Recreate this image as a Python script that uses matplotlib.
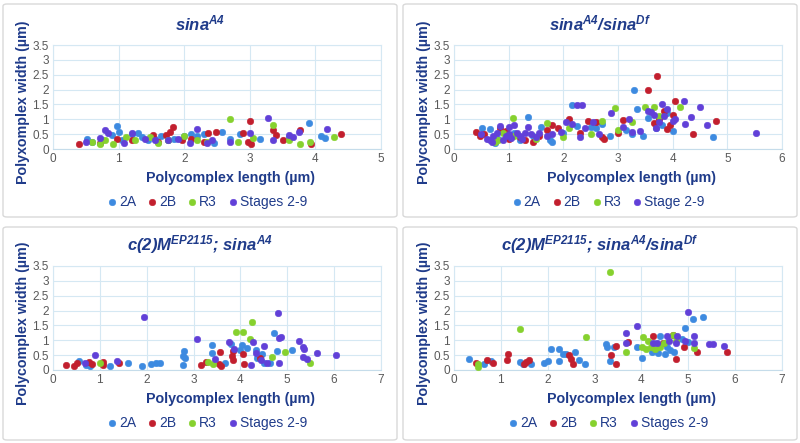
import matplotlib.pyplot as plt
from matplotlib.patches import FancyBboxPatch

plt.rcParams['font.family'] = ['Liberation Sans', 'DejaVu Sans']
plt.rcParams['mathtext.fontset'] = 'custom'
plt.rcParams['mathtext.rm'] = 'Liberation Sans:italic:bold'
plt.rcParams['mathtext.it'] = 'Liberation Sans:italic:bold'
plt.rcParams['mathtext.bf'] = 'Liberation Sans:italic:bold'

# ---- panel 1: sina A4
p1_2a_x = [0.52, 0.6, 0.75, 0.9, 0.98, 1.0, 1.05, 1.2, 1.3, 1.35, 1.45, 1.55, 1.65, 1.75,
           1.85, 2.0, 2.1, 2.2, 2.3, 2.45, 2.58, 2.7, 2.85, 3.15, 3.6, 3.9, 4.08, 4.15]
p1_2a_y = [0.35, 0.25, 0.3, 0.47, 0.77, 0.58, 0.3, 0.5, 0.55, 0.4, 0.3, 0.35, 0.45, 0.3,
           0.35, 0.45, 0.5, 0.45, 0.5, 0.2, 0.58, 0.32, 0.5, 0.33, 0.4, 0.89, 0.44, 0.38]
p1_2b_x = [0.4, 0.71, 0.97, 1.2, 1.53, 1.6, 1.73, 1.79, 1.83, 1.96, 2.1, 2.3, 2.36, 2.49,
           2.9, 2.97, 3.0, 3.02, 3.36, 3.4, 3.5, 3.76, 3.94, 4.39]
p1_2b_y = [0.17, 0.19, 0.33, 0.3, 0.47, 0.25, 0.47, 0.58, 0.73, 0.3, 0.35, 0.22, 0.53, 0.58,
           0.53, 0.25, 0.95, 0.17, 0.64, 0.47, 0.3, 0.64, 0.17, 0.5]
p1_r3_x = [0.6, 0.72, 0.8, 0.92, 1.12, 1.25, 1.48, 1.6, 1.75, 2.0, 2.2, 2.35, 2.7, 2.82,
           3.05, 3.35, 3.6, 3.76, 3.92, 4.29]
p1_r3_y = [0.25, 0.17, 0.3, 0.17, 0.42, 0.3, 0.41, 0.2, 0.3, 0.44, 0.3, 0.22, 1.02, 0.25,
           0.36, 0.81, 0.3, 0.17, 0.25, 0.39]
p1_st_x = [0.5, 0.71, 0.79, 0.84, 1.08, 1.21, 1.4, 1.55, 1.75, 1.9, 2.09, 2.19, 2.34, 2.42,
           2.7, 3.0, 3.28, 3.35, 3.6, 3.66, 3.75, 4.18]
p1_st_y = [0.25, 0.36, 0.64, 0.53, 0.2, 0.53, 0.35, 0.3, 0.3, 0.35, 0.19, 0.66, 0.19, 0.3,
           0.25, 0.53, 1.06, 0.3, 0.47, 0.42, 0.58, 0.66]

# ---- panel 2: sina A4 / sina Df
p2_2a_x = [0.52, 0.65, 0.75, 0.8, 0.95, 1.1, 1.2, 1.35, 1.45, 1.6, 1.75, 1.8, 2.0, 2.15,
           2.25, 2.5, 2.6, 2.7, 2.85, 3.15, 3.25, 3.3, 3.35, 3.45, 3.55, 3.7, 3.8, 3.9, 4.0, 4.73]
p2_2a_y = [0.7, 0.68, 0.2, 0.35, 0.5, 0.55, 0.3, 1.08, 0.45, 0.75, 0.3, 0.22, 0.55, 1.48,
           0.77, 0.75, 0.7, 0.85, 0.45, 0.65, 0.5, 2.0, 1.35, 0.45, 1.05, 0.72, 0.8, 1.2, 0.6, 0.4]
p2_2b_x = [0.4, 0.47, 0.55, 0.85, 0.95, 1.0, 1.2, 1.3, 1.45, 1.55, 1.7, 1.8, 1.9, 2.1,
           2.3, 2.45, 2.6, 2.7, 2.75, 3.0, 3.1, 3.55, 3.65, 3.72, 3.75, 3.85, 3.9, 3.95,
           4.0, 4.05, 4.38, 4.8]
p2_2b_y = [0.57, 0.45, 0.5, 0.7, 0.6, 0.35, 0.4, 0.3, 0.25, 0.45, 0.65, 0.8, 0.72, 1.0,
           0.55, 0.95, 0.9, 0.4, 0.33, 0.55, 0.98, 2.0, 0.88, 2.47, 1.0, 1.28, 0.68, 0.8,
           1.15, 1.62, 0.52, 0.95]
p2_r3_x = [0.75, 0.8, 0.9, 1.08, 1.1, 1.5, 1.7, 2.0, 2.1, 2.5, 2.7, 2.95, 3.0, 3.25,
           3.5, 3.65, 3.75, 4.13]
p2_r3_y = [0.25, 0.3, 0.55, 1.03, 0.45, 0.35, 0.88, 0.4, 0.7, 0.5, 0.95, 1.38, 0.65, 0.9,
           1.4, 1.4, 1.1, 1.42]
p2_st_x = [0.5, 0.6, 0.65, 0.7, 0.72, 0.78, 0.85, 0.9, 0.95, 1.0, 1.0, 1.05, 1.1, 1.15,
           1.2, 1.25, 1.3, 1.35, 1.4, 1.5, 1.55, 1.7, 1.8, 1.95, 2.05, 2.15, 2.25, 2.3,
           2.35, 2.4, 2.55, 2.65, 2.87, 3.1, 3.2, 3.25, 3.4, 3.55, 3.6, 3.65, 3.7, 3.75,
           3.8, 3.85, 3.9, 4.0, 4.05, 4.2, 4.23, 4.33, 4.5, 4.62, 5.52]
p2_st_y = [0.5, 0.35, 0.3, 0.25, 0.45, 0.55, 0.78, 0.3, 0.45, 0.75, 0.5, 0.38, 0.8, 0.55,
           0.45, 0.35, 0.55, 0.75, 0.5, 0.4, 0.55, 0.45, 0.5, 0.58, 0.9, 0.85, 1.48, 0.42,
           1.48, 0.72, 0.9, 0.5, 1.2, 0.75, 1.0, 0.58, 0.6, 1.28, 1.25, 1.15, 0.7, 0.9,
           1.52, 1.1, 1.35, 0.95, 1.0, 1.6, 0.85, 1.08, 1.4, 0.8, 0.55]

# ---- panel 3: c(2)M EP2115; sina A4
p3_2a_x = [0.56, 0.71, 0.8, 1.21, 1.6, 1.91, 2.09, 2.19, 2.29, 2.78, 2.8, 2.82, 2.78,
           3.4, 3.4, 3.67, 3.8, 3.99, 4.04, 4.13, 4.34, 4.36, 4.45, 4.5, 4.64, 4.72, 4.79, 5.09]
p3_2a_y = [0.31, 0.17, 0.12, 0.15, 0.22, 0.15, 0.19, 0.24, 0.24, 0.48, 0.64, 0.39, 0.16,
           0.83, 0.56, 0.25, 0.86, 0.67, 0.83, 0.75, 0.67, 0.39, 0.54, 0.25, 0.25, 1.23, 0.63, 0.68]
p3_2b_x = [0.28, 0.44, 0.51, 0.77, 0.84, 1.07, 1.07, 1.4, 3.16, 3.27, 3.54, 3.56, 3.58,
           3.83, 3.85, 3.85, 4.06, 4.08, 4.42]
p3_2b_y = [0.18, 0.13, 0.22, 0.28, 0.2, 0.28, 0.16, 0.22, 0.17, 0.28, 0.2, 0.62, 0.15,
           0.48, 0.65, 0.35, 0.55, 0.19, 0.39]
p3_r3_x = [1.0, 3.3, 3.42, 3.9, 4.06, 4.2, 4.24, 4.67, 4.96, 5.48]
p3_r3_y = [0.24, 0.26, 0.19, 1.29, 1.29, 1.06, 1.62, 0.45, 0.62, 0.25]
p3_st_x = [0.68, 0.89, 1.37, 1.94, 3.08, 3.45, 3.75, 3.87, 4.22, 4.26, 4.34, 4.44, 4.5,
           4.57, 4.81, 4.83, 4.83, 4.87, 5.26, 5.33, 5.33, 5.35, 5.43, 5.63, 6.05]
p3_st_y = [0.22, 0.49, 0.31, 1.8, 1.03, 0.36, 0.94, 0.7, 0.18, 0.94, 0.58, 0.33, 0.81,
           0.25, 1.93, 1.07, 0.25, 1.12, 0.99, 0.79, 0.44, 0.7, 0.37, 0.58, 0.49]

# ---- panel 4: c(2)M EP2115; sina A4 / sina Df
p4_2a_x = [0.33, 0.65, 0.8, 1.4, 1.47, 1.65, 1.93, 2.0, 2.08, 2.24, 2.24, 2.32, 2.39,
           2.59, 2.66, 2.79, 3.25, 3.27, 3.32, 3.41, 3.91, 4.02, 4.22, 4.35, 4.39, 4.5,
           4.55, 4.6, 4.69, 4.87, 4.92, 4.99, 5.1, 5.31]
p4_2a_y = [0.36, 0.2, 0.29, 0.28, 0.19, 0.21, 0.23, 0.3, 0.7, 0.7, 0.3, 0.54, 0.54,
           0.62, 0.34, 0.2, 0.88, 0.76, 0.3, 0.79, 0.77, 0.4, 0.62, 0.56, 1.13, 0.53,
           0.77, 0.68, 0.6, 1.04, 1.4, 0.93, 1.7, 1.78]
p4_2b_x = [0.46, 0.71, 0.83, 1.13, 1.16, 1.49, 1.54, 1.6, 2.45, 2.49, 2.54, 3.36, 3.46,
           3.46, 3.72, 4.25, 4.46, 4.67, 4.74, 4.9, 5.19, 5.82]
p4_2b_y = [0.25, 0.32, 0.25, 0.34, 0.53, 0.2, 0.28, 0.32, 0.5, 0.36, 0.2, 0.52, 0.81,
           0.2, 0.94, 1.15, 0.9, 1.18, 0.36, 0.77, 0.59, 0.62]
p4_r3_x = [0.51, 0.52, 1.4, 2.82, 3.32, 3.67, 4.02, 4.03, 4.1, 4.14, 4.2, 4.28, 4.39,
           4.49, 4.67, 4.74, 5.13]
p4_r3_y = [0.2, 0.09, 1.38, 1.11, 3.31, 0.6, 0.77, 1.11, 0.7, 0.98, 0.77, 0.7, 0.77,
           0.9, 1.18, 0.96, 0.73]
p4_st_x = [3.67, 3.68, 3.9, 4.24, 4.33, 4.55, 4.58, 4.74, 4.76, 4.94, 5.0, 5.13, 5.13,
           5.44, 5.52, 5.76]
p4_st_y = [1.24, 0.9, 1.47, 0.9, 0.9, 1.13, 0.96, 0.9, 1.15, 0.96, 1.94, 1.13, 0.9,
           0.87, 0.87, 0.81]

titles = [r'sina$^{A4}$', r'sina$^{A4}$/sina$^{Df}$',
          r'c(2)M$^{EP2115}$; sina$^{A4}$', r'c(2)M$^{EP2115}$; sina$^{A4}$/sina$^{Df}$']
ylabels = ['Polyxomplex width (µm)', 'Polycomplex width (µm)',
           'Polycomplex width (µm)', 'Polycomplex width (µm)']
last_labels = ['Stages 2-9', 'Stage 2-9', 'Stages 2-9', 'Stages 2-9']
xmaxes = [5, 6, 7, 7]

panels = [
    [(p1_2a_x, p1_2a_y), (p1_2b_x, p1_2b_y), (p1_r3_x, p1_r3_y), (p1_st_x, p1_st_y)],
    [(p2_2a_x, p2_2a_y), (p2_2b_x, p2_2b_y), (p2_r3_x, p2_r3_y), (p2_st_x, p2_st_y)],
    [(p3_2a_x, p3_2a_y), (p3_2b_x, p3_2b_y), (p3_r3_x, p3_r3_y), (p3_st_x, p3_st_y)],
    [(p4_2a_x, p4_2a_y), (p4_2b_x, p4_2b_y), (p4_r3_x, p4_r3_y), (p4_st_x, p4_st_y)],
]

colors = ['#3d8ae0', '#c21f2e', '#86d12e', '#6140d8']
navy = '#1f3b8a'
grid_c = '#d5e8f3'

fig = plt.figure(figsize=(8, 4.43), dpi=100)

# panel boxes (left, bottom) in pixels and axes rects
boxes = [(3, 226), (403, 226), (3, 3), (403, 3)]
ax_rects = [(53, 294), (454, 294), (53, 73), (454, 73)]
title_y = [420, 420, 198, 198]

for i in range(4):
    bx, by = boxes[i]
    fig.add_artist(FancyBboxPatch((bx / 800, by / 443), 394 / 800, 213 / 443,
                                  boxstyle='round,pad=0,rounding_size=0.005',
                                  transform=fig.transFigure, facecolor='none',
                                  edgecolor='#d9d9d9', linewidth=1))
    ax_x, ax_y = ax_rects[i]
    ax = fig.add_axes([ax_x / 800, ax_y / 443, 328 / 800, 104 / 443])
    names = ['2A', '2B', 'R3', last_labels[i]]
    for (xs, ys), c, name in zip(panels[i], colors, names):
        ax.scatter(xs, ys, s=22, color=c, edgecolors=c, linewidths=0.4,
                   label=name, zorder=3, clip_on=False)
    ax.set_xlim(0, xmaxes[i])
    ax.set_ylim(0, 3.5)
    ax.set_yticks([0, 0.5, 1, 1.5, 2, 2.5, 3, 3.5])
    ax.set_yticklabels(['0', '0.5', '1', '1.5', '2', '2.5', '3', '3.5'])
    ax.set_xticks(range(xmaxes[i] + 1))
    ax.grid(True, color=grid_c, linewidth=0.8)
    ax.set_axisbelow(True)
    for sp in ax.spines.values():
        sp.set_color(grid_c)
    ax.spines['bottom'].set_color('#c5dcea')
    ax.tick_params(length=0, labelsize=8.5, labelcolor='#595959', pad=3)

    fig.text((bx + 197) / 800, title_y[i] / 443, titles[i], ha='center', va='center',
             fontsize=12, fontweight='bold', fontstyle='italic', color=navy)
    ax.set_xlabel('Polycomplex length (µm)', fontsize=10.3, fontweight='bold', color=navy)
    ax.xaxis.set_label_coords(0.54, -0.21)
    ax.set_ylabel(ylabels[i], fontsize=10.3, fontweight='bold', color=navy)
    ax.yaxis.set_label_coords(-0.07, 0.45)
    leg = ax.legend(loc='center', bbox_to_anchor=(0.47, -0.51), ncol=4, frameon=False,
                    fontsize=10, handlelength=0.7, handletextpad=0.15, columnspacing=0.8,
                    borderaxespad=0, borderpad=0)
    for t in leg.get_texts():
        t.set_color(navy)

fig.savefig('out.png', dpi=100)
